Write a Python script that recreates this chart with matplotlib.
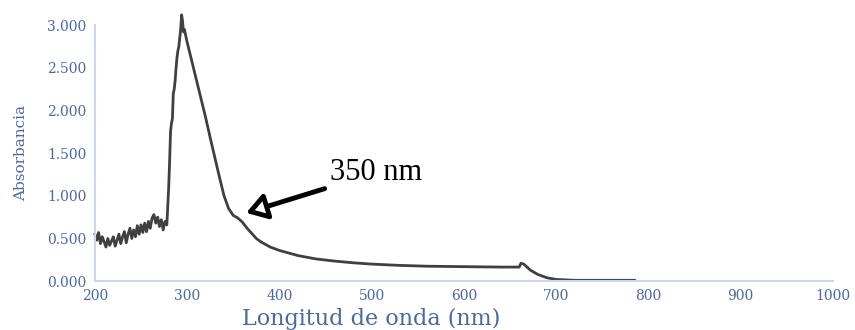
import numpy as np
import matplotlib.pyplot as plt

wl_noise = [200, 202, 204, 206, 208, 210, 212, 214, 216, 218, 220, 222, 224, 226,
            228, 230, 232, 234, 236, 238, 240, 242, 244, 246, 248, 250, 252, 254,
            256, 258, 260, 262, 264, 266, 268, 270, 272, 274, 276, 278]
abs_noise = [0.55, 0.48, 0.57, 0.44, 0.52, 0.46, 0.40, 0.50, 0.42, 0.47, 0.52, 0.41,
             0.48, 0.55, 0.44, 0.52, 0.58, 0.45, 0.55, 0.62, 0.50, 0.60, 0.52, 0.65,
             0.55, 0.66, 0.57, 0.68, 0.58, 0.70, 0.62, 0.74, 0.78, 0.68, 0.75, 0.64,
             0.72, 0.60, 0.70, 0.66]
wl_peak = [280, 281, 282, 283, 284, 285, 286, 287, 288, 289, 290, 291, 292, 293,
           294, 295, 296, 297, 300, 305, 310, 315, 320, 325, 330, 335, 340, 345,
           350, 355, 360, 365, 370, 375, 380, 390, 400, 420, 440, 460, 480, 500,
           530, 560, 600, 640, 660, 662, 665, 668, 672, 680, 690, 700, 710, 720, 785]
abs_peak = [1.10, 1.40, 1.75, 1.85, 1.90, 2.20, 2.25, 2.35, 2.50, 2.62, 2.70, 2.75,
            2.85, 2.95, 3.12, 3.05, 2.92, 2.95, 2.80, 2.58, 2.36, 2.14, 1.92, 1.68,
            1.45, 1.22, 1.00, 0.85, 0.77, 0.74, 0.69, 0.62, 0.56, 0.50, 0.46, 0.40,
            0.36, 0.30, 0.26, 0.235, 0.215, 0.20, 0.185, 0.175, 0.17, 0.165, 0.165,
            0.21, 0.20, 0.17, 0.13, 0.08, 0.04, 0.02, 0.015, 0.01, 0.01]

wl = np.array(wl_noise + wl_peak)
absorb = np.array(abs_noise + abs_peak)

azul = '#4a6a9c'
fig = plt.figure(figsize=(8.55, 3.3), dpi=100)
ax = fig.add_axes([0.111, 0.148, 0.863, 0.776])
ax.plot(wl, absorb, color='#404040', lw=2, clip_on=False)

ax.set_xlim(200, 1000)
ax.set_ylim(0, 3)
ax.set_xticks(np.arange(200, 1001, 100))
ax.set_yticks(np.arange(0, 3.01, 0.5))
ax.set_yticklabels(['%.3f' % v for v in np.arange(0, 3.01, 0.5)])
for s in ['top', 'right']:
    ax.spines[s].set_visible(False)
for s in ['left', 'bottom']:
    ax.spines[s].set_color('#c8d8ee')
    ax.spines[s].set_linewidth(1.5)
ax.tick_params(length=0, colors=azul, labelsize=10, pad=6)
for t in ax.get_xticklabels() + ax.get_yticklabels():
    t.set_family('DejaVu Serif')

ax.set_xlabel('Longitud de onda (nm)', family='DejaVu Serif', fontsize=16,
              color=azul)
ax.xaxis.set_label_coords(0.375, -0.105)
ax.set_ylabel('Absorbancia', family='DejaVu Serif', fontsize=11, color=azul,
              labelpad=14)

ax.annotate('350 nm', xy=(364, 0.80), xytext=(455, 1.27),
            fontsize=22, family='Liberation Serif', va='center', ha='left',
            arrowprops=dict(arrowstyle='-|>,head_length=0.55,head_width=0.35',
                            lw=3.5, fc='white', ec='black', shrinkA=2, shrinkB=0))

fig.savefig('out.png', dpi=100)
